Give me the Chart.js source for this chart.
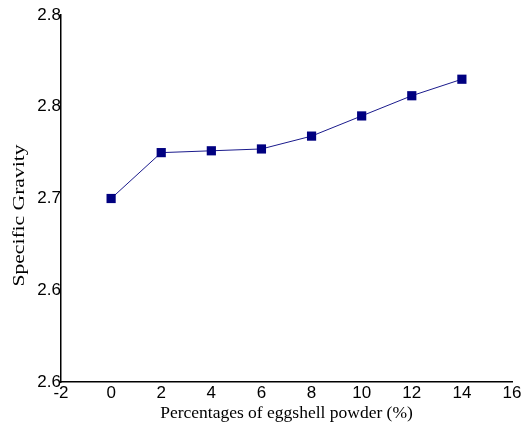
<!DOCTYPE html>
<html>
<head>
<meta charset="utf-8">
<script src="https://cdn.jsdelivr.net/npm/chart.js@4"></script>
<style>
  html, body { margin: 0; padding: 0; background: #fff; }
  #wrap { width: 525px; height: 427px; }
</style>
</head>
<body>
<div id="wrap"><canvas id="sgChart" width="525" height="427"></canvas></div>
<script>
// eggshell powder content (%) and measured specific gravity
const eggshellPct = [0, 2, 4, 6, 8, 10, 12, 14];
const specificGravity = [2.700, 2.725, 2.726, 2.727, 2.734, 2.745, 2.756, 2.765];
const yTickValues = [2.60, 2.65, 2.70, 2.75, 2.80];
const yTickLabels = ['2.6', '2.6', '2.7', '2.8', '2.8'];
const xTickValues = [-2, 0, 2, 4, 6, 8, 10, 12, 14, 16];
const yTitle = 'Specific Gravity';

// y title in the original is a bit stretched along its length, so draw it by hand
const stretchedYTitle = {
    id: 'stretchedYTitle',
    afterDraw(chart) {
        const c = chart.ctx;
        const area = chart.chartArea;
        c.save();
        c.translate(20, (area.top + area.bottom) / 2 + 17);
        c.rotate(-Math.PI / 2);
        c.scale(1.27, 1);
        c.font = '17px "Liberation Serif"';
        c.fillStyle = '#000';
        c.textAlign = 'center';
        c.textBaseline = 'middle';
        c.fillText(yTitle, 0, 0);
        c.restore();
    }
};

document.addEventListener("DOMContentLoaded", function () {
    const ctx = document.getElementById('sgChart').getContext('2d');

    new Chart(ctx, {
        type: 'line',
        data: {
            datasets: [{
                data: eggshellPct.map((x, i) => ({ x: x, y: specificGravity[i] })),
                borderColor: '#1a1a8c',
                borderWidth: 1,
                backgroundColor: '#000080',
                pointStyle: 'rect',
                pointRadius: 6.5,
                pointBorderWidth: 0,
                pointBackgroundColor: '#000080',
                tension: 0
            }]
        },
        options: {
            responsive: false,
            animation: false,
            layout: { padding: { top: 15, right: 13, left: 0, bottom: 0 } },
            plugins: {
                legend: { display: false },
                tooltip: { enabled: false }
            },
            scales: {
                x: {
                    type: 'linear',
                    min: -2,
                    max: 16,
                    afterBuildTicks: function (scale) {
                        scale.ticks = xTickValues.map(v => ({ value: v }));
                    },
                    afterFit: function (scale) { scale.height = 45; },
                    grid: { display: false, drawTicks: false },
                    border: { display: true, color: '#000', width: 1.5 },
                    ticks: {
                        padding: 1,
                        color: '#000',
                        font: { family: 'Liberation Sans', size: 17 }
                    },
                    title: {
                        display: true,
                        text: 'Percentages of eggshell powder (%)',
                        color: '#000',
                        font: { family: 'Liberation Serif', size: 17.5 },
                        padding: { top: 0, bottom: 3 }
                    }
                },
                y: {
                    min: 2.60,
                    max: 2.80,
                    afterBuildTicks: function (scale) {
                        scale.ticks = yTickValues.map(v => ({ value: v }));
                    },
                    afterFit: function (scale) { scale.width = 61; },
                    grid: { display: false, drawTicks: false },
                    border: { display: true, color: '#000', width: 1.5 },
                    ticks: {
                        padding: 0,
                        color: '#000',
                        font: { family: 'Liberation Sans', size: 17 },
                        callback: function (value, index) { return yTickLabels[index]; }
                    },
                    title: { display: false }
                }
            }
        },
        plugins: [stretchedYTitle]
    });
});
</script>
</body>
</html>
